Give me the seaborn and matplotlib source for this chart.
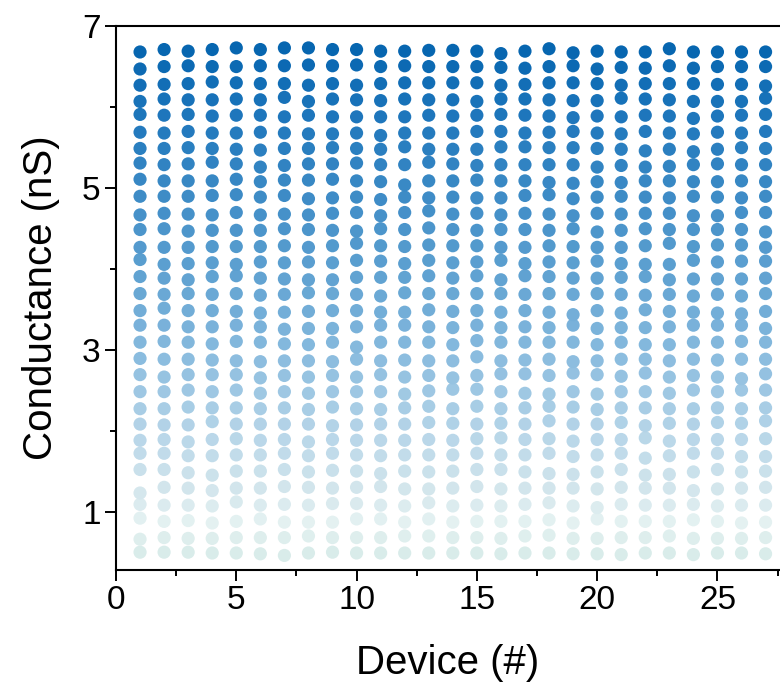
import numpy as np
import pandas as pd
import matplotlib
matplotlib.use("Agg")
import matplotlib.pyplot as plt
from matplotlib.colors import LinearSegmentedColormap
from matplotlib.ticker import MultipleLocator, FixedLocator
import seaborn as sns

# Conductance states (nS) programmed in each device, lowest to highest
dev01 = [0.51, 0.67, 0.93, 1.10, 1.24, 1.53, 1.73, 1.89, 2.09, 2.28, 2.49, 2.70, 2.90, 3.10, 3.31, 3.49,
         3.70, 3.91, 4.12, 4.27, 4.49, 4.67, 4.90, 5.11, 5.31, 5.49, 5.69, 5.91, 6.07, 6.27, 6.47, 6.68]
dev02 = [0.51, 0.69, 0.89, 1.09, 1.31, 1.53, 1.73, 1.90, 2.08, 2.28, 2.49, 2.67, 2.89, 3.11, 3.31, 3.52,
         3.69, 3.89, 4.06, 4.27, 4.50, 4.69, 4.90, 5.09, 5.29, 5.49, 5.68, 5.90, 6.10, 6.28, 6.50, 6.71]
dev03 = [0.51, 0.68, 0.90, 1.09, 1.30, 1.49, 1.70, 1.87, 2.08, 2.30, 2.51, 2.70, 2.89, 3.10, 3.29, 3.49,
         3.70, 3.87, 4.07, 4.27, 4.47, 4.68, 4.90, 5.09, 5.30, 5.50, 5.70, 5.91, 6.09, 6.29, 6.51, 6.69]
dev04 = [0.50, 0.68, 0.87, 1.08, 1.27, 1.46, 1.70, 1.90, 2.12, 2.29, 2.49, 2.70, 2.88, 3.08, 3.29, 3.49,
         3.69, 3.91, 4.08, 4.28, 4.48, 4.67, 4.91, 5.09, 5.32, 5.49, 5.68, 5.89, 6.09, 6.31, 6.50, 6.71]
dev05 = [0.50, 0.69, 0.89, 1.13, 1.30, 1.51, 1.71, 1.91, 2.09, 2.29, 2.51, 2.70, 2.87, 3.11, 3.31, 3.48,
         3.70, 3.92, 4.06, 4.28, 4.48, 4.70, 4.92, 5.11, 5.30, 5.48, 5.68, 5.90, 6.10, 6.30, 6.50, 6.73]
dev06 = [0.49, 0.69, 0.92, 1.09, 1.30, 1.51, 1.71, 1.89, 2.09, 2.28, 2.47, 2.66, 2.86, 3.10, 3.29, 3.46,
         3.68, 3.89, 4.09, 4.28, 4.48, 4.67, 4.89, 5.08, 5.26, 5.47, 5.69, 5.90, 6.09, 6.29, 6.51, 6.71]
dev07 = [0.47, 0.69, 0.88, 1.10, 1.32, 1.53, 1.73, 1.90, 2.09, 2.29, 2.49, 2.69, 2.87, 3.08, 3.26, 3.47,
         3.69, 3.88, 4.08, 4.29, 4.50, 4.68, 4.91, 5.10, 5.28, 5.49, 5.68, 5.88, 6.12, 6.29, 6.51, 6.73]
dev08 = [0.50, 0.71, 0.88, 1.09, 1.31, 1.50, 1.70, 1.87, 2.09, 2.27, 2.47, 2.67, 2.87, 3.07, 3.27, 3.48,
         3.71, 3.87, 4.09, 4.27, 4.49, 4.67, 4.87, 5.10, 5.30, 5.49, 5.67, 5.90, 6.07, 6.27, 6.52, 6.73]
dev09 = [0.51, 0.69, 0.88, 1.11, 1.30, 1.52, 1.73, 1.90, 2.07, 2.30, 2.49, 2.69, 2.86, 3.10, 3.27, 3.49,
         3.70, 3.87, 4.08, 4.29, 4.48, 4.69, 4.88, 5.11, 5.30, 5.50, 5.67, 5.88, 6.10, 6.29, 6.51, 6.71]
dev10 = [0.50, 0.69, 0.92, 1.11, 1.31, 1.51, 1.71, 1.89, 2.08, 2.28, 2.49, 2.67, 2.89, 3.04, 3.29, 3.49,
         3.69, 3.90, 4.11, 4.32, 4.47, 4.70, 4.89, 5.09, 5.31, 5.49, 5.68, 5.88, 6.09, 6.27, 6.52, 6.71]
dev11 = [0.50, 0.69, 0.92, 1.09, 1.32, 1.48, 1.70, 1.89, 2.09, 2.27, 2.49, 2.70, 2.87, 3.10, 3.31, 3.47,
         3.67, 3.90, 4.10, 4.29, 4.50, 4.66, 4.86, 5.08, 5.29, 5.48, 5.65, 5.88, 6.08, 6.29, 6.50, 6.69]
dev12 = [0.50, 0.71, 0.88, 1.08, 1.29, 1.51, 1.71, 1.89, 2.09, 2.29, 2.46, 2.67, 2.88, 3.10, 3.31, 3.47,
         3.71, 3.90, 4.07, 4.28, 4.49, 4.70, 4.89, 5.04, 5.29, 5.51, 5.68, 5.88, 6.10, 6.30, 6.51, 6.69]
dev13 = [0.50, 0.71, 0.92, 1.12, 1.29, 1.50, 1.71, 1.90, 2.11, 2.31, 2.50, 2.69, 2.87, 3.10, 3.29, 3.50,
         3.70, 3.92, 4.11, 4.30, 4.51, 4.72, 4.88, 5.09, 5.32, 5.48, 5.68, 5.90, 6.09, 6.30, 6.50, 6.70]
dev14 = [0.50, 0.69, 0.88, 1.08, 1.30, 1.51, 1.71, 1.89, 2.10, 2.28, 2.52, 2.66, 2.87, 3.07, 3.28, 3.48,
         3.70, 3.89, 4.08, 4.29, 4.49, 4.68, 4.89, 5.09, 5.30, 5.48, 5.68, 5.89, 6.09, 6.30, 6.50, 6.70]
dev15 = [0.50, 0.69, 0.89, 1.09, 1.32, 1.53, 1.73, 1.91, 2.09, 2.31, 2.52, 2.69, 2.92, 3.12, 3.31, 3.49,
         3.70, 3.92, 4.09, 4.29, 4.48, 4.69, 4.88, 5.10, 5.28, 5.48, 5.70, 5.90, 6.07, 6.30, 6.50, 6.69]
dev16 = [0.49, 0.68, 0.89, 1.08, 1.29, 1.53, 1.71, 1.92, 2.10, 2.28, 2.49, 2.71, 2.87, 3.10, 3.28, 3.47,
         3.70, 3.87, 4.11, 4.27, 4.49, 4.67, 4.88, 5.09, 5.29, 5.51, 5.70, 5.91, 6.10, 6.27, 6.49, 6.66]
dev17 = [0.50, 0.71, 0.89, 1.10, 1.30, 1.50, 1.71, 1.90, 2.09, 2.29, 2.47, 2.71, 2.88, 3.10, 3.29, 3.49,
         3.69, 3.92, 4.07, 4.27, 4.49, 4.69, 4.91, 5.09, 5.29, 5.51, 5.68, 5.90, 6.10, 6.28, 6.48, 6.69]
dev18 = [0.50, 0.72, 0.91, 1.12, 1.30, 1.48, 1.73, 1.91, 2.13, 2.31, 2.46, 2.69, 2.89, 3.10, 3.28, 3.47,
         3.70, 3.91, 4.09, 4.29, 4.48, 4.68, 4.92, 5.07, 5.29, 5.50, 5.69, 5.89, 6.09, 6.30, 6.50, 6.72]
dev19 = [0.49, 0.68, 0.87, 1.08, 1.30, 1.47, 1.69, 1.88, 2.09, 2.30, 2.49, 2.72, 2.86, 3.10, 3.31, 3.44,
         3.69, 3.89, 4.08, 4.28, 4.50, 4.66, 4.87, 5.06, 5.29, 5.50, 5.70, 5.87, 6.08, 6.30, 6.51, 6.67]
dev20 = [0.49, 0.68, 0.92, 1.06, 1.29, 1.50, 1.71, 1.90, 2.09, 2.27, 2.46, 2.70, 2.87, 3.07, 3.27, 3.49,
         3.70, 3.89, 4.10, 4.27, 4.46, 4.69, 4.89, 5.08, 5.26, 5.49, 5.68, 5.89, 6.08, 6.29, 6.47, 6.69]
dev21 = [0.48, 0.69, 0.89, 1.10, 1.31, 1.53, 1.73, 1.90, 2.11, 2.29, 2.49, 2.68, 2.89, 3.10, 3.28, 3.46,
         3.69, 3.90, 4.07, 4.27, 4.48, 4.68, 4.90, 5.07, 5.28, 5.48, 5.67, 5.88, 6.11, 6.27, 6.49, 6.68]
dev22 = [0.50, 0.69, 0.89, 1.09, 1.30, 1.46, 1.67, 1.92, 2.07, 2.29, 2.49, 2.72, 2.89, 3.07, 3.28, 3.50,
         3.68, 3.91, 4.06, 4.29, 4.50, 4.69, 4.89, 5.09, 5.26, 5.46, 5.70, 5.90, 6.10, 6.29, 6.48, 6.68]
dev23 = [0.50, 0.71, 0.89, 1.09, 1.30, 1.47, 1.70, 1.88, 2.10, 2.28, 2.47, 2.67, 2.87, 3.07, 3.29, 3.48,
         3.69, 3.87, 4.06, 4.32, 4.49, 4.69, 4.88, 5.09, 5.27, 5.48, 5.68, 5.89, 6.09, 6.29, 6.51, 6.72]
dev24 = [0.48, 0.68, 0.91, 1.10, 1.27, 1.50, 1.73, 1.90, 2.09, 2.28, 2.51, 2.69, 2.89, 3.10, 3.31, 3.47,
         3.67, 3.88, 4.11, 4.28, 4.49, 4.66, 4.90, 5.08, 5.29, 5.45, 5.67, 5.86, 6.07, 6.29, 6.48, 6.68]
dev25 = [0.50, 0.68, 0.89, 1.08, 1.29, 1.53, 1.73, 1.90, 2.11, 2.29, 2.49, 2.67, 2.88, 3.10, 3.31, 3.46,
         3.69, 3.88, 4.09, 4.30, 4.49, 4.66, 4.89, 5.08, 5.30, 5.48, 5.69, 5.89, 6.07, 6.28, 6.50, 6.68]
dev26 = [0.50, 0.68, 0.87, 1.09, 1.30, 1.50, 1.69, 1.90, 2.10, 2.28, 2.51, 2.65, 2.89, 3.11, 3.31, 3.45,
         3.67, 3.88, 4.10, 4.30, 4.49, 4.70, 4.88, 5.09, 5.29, 5.50, 5.68, 5.90, 6.07, 6.28, 6.50, 6.68]
dev27 = [0.49, 0.69, 0.88, 1.09, 1.31, 1.51, 1.69, 1.91, 2.13, 2.29, 2.51, 2.71, 2.89, 3.10, 3.27, 3.48,
         3.70, 3.89, 4.10, 4.27, 4.46, 4.70, 4.90, 5.08, 5.29, 5.49, 5.70, 5.91, 6.11, 6.26, 6.50, 6.68]

devices = [dev01, dev02, dev03, dev04, dev05, dev06, dev07, dev08, dev09, dev10,
           dev11, dev12, dev13, dev14, dev15, dev16, dev17, dev18, dev19, dev20,
           dev21, dev22, dev23, dev24, dev25, dev26, dev27]

x_ticks = [0, 5, 10, 15, 20, 25]
y_ticks = [1, 3, 5, 7]

rows = []
for i, states in enumerate(devices, start=1):
    for g in states:
        rows.append({"device": i, "conductance": g})
df = pd.DataFrame(rows)

# light teal-white for the lowest states, deep blue for the highest
stops = [(0.00, "#d9ecea"), (0.06, "#e4f1f1"), (0.13, "#d2e5ec"), (0.24, "#b6d5e8"),
         (0.40, "#87bade"), (0.56, "#5ea1d1"), (0.73, "#3a89c5"), (0.88, "#1c75bb"),
         (1.00, "#0766b0")]
cmap = LinearSegmentedColormap.from_list("states", stops)

sns.set_theme(style="ticks")
plt.rcParams["font.family"] = ["Liberation Sans", "DejaVu Sans"]
plt.rcParams["text.color"] = "black"
plt.rcParams["axes.labelcolor"] = "black"

fig = plt.figure(figsize=(7.8, 6.96), dpi=100)
ax = fig.add_axes([0.1487, 0.181, 0.8513, 0.7816])

sns.scatterplot(data=df, x="device", y="conductance", hue="conductance",
                palette=cmap, hue_norm=(0.5, 6.7), s=90, linewidth=0,
                legend=False, ax=ax)

ax.set_xlim(0, 27.6)
ax.set_ylim(0.29, 7.0)
ax.xaxis.set_major_locator(FixedLocator(x_ticks))
ax.xaxis.set_minor_locator(MultipleLocator(2.5))
ax.yaxis.set_major_locator(FixedLocator(y_ticks))
ax.yaxis.set_minor_locator(FixedLocator([2, 4, 6]))
ax.set_xticklabels([str(t) for t in x_ticks])
ax.set_yticklabels([str(t) for t in y_ticks])

ax.tick_params(axis="both", which="major", direction="out", length=8, width=1.4,
               labelsize=24, pad=3, color="black", labelcolor="black")
ax.tick_params(axis="both", which="minor", direction="out", length=4.5, width=1.4,
               color="black")
ax.tick_params(top=False, right=False, which="both")

for side in ["left", "bottom", "top"]:
    ax.spines[side].set_visible(True)
    ax.spines[side].set_linewidth(1.5)
    ax.spines[side].set_color("black")
ax.spines["right"].set_visible(False)

ax.set_xlabel("Device (#)", fontsize=29, labelpad=20, color="black")
ax.set_ylabel("Conductance (nS)", fontsize=29, labelpad=16, color="black")

fig.savefig("out.png", dpi=100)
